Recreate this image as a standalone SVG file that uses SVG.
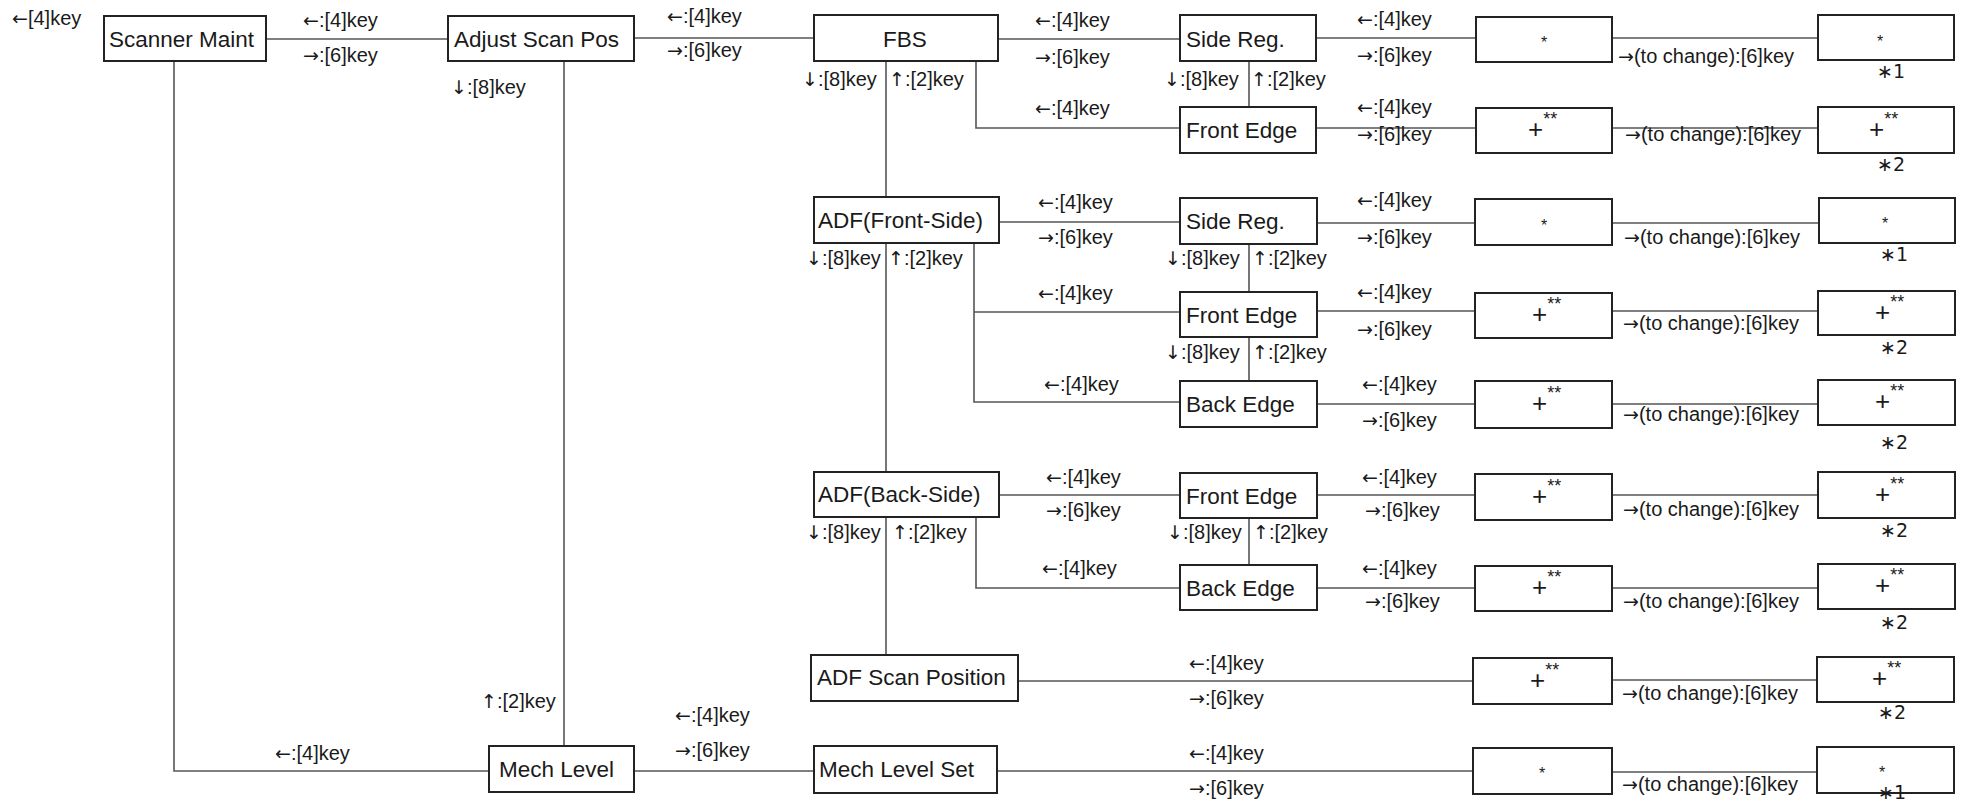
<svg xmlns="http://www.w3.org/2000/svg" width="1966" height="800" viewBox="0 0 1966 800">
<style>
.box{fill:#fff;stroke:#222;stroke-width:2}
.ln{fill:none;stroke:#555;stroke-width:1.6}
text{font-family:"Liberation Sans",Arial,"DejaVu Sans",sans-serif;fill:#1a1a1a}
.nt{font-size:22.5px}
.kl{font-size:20px}
.ar{font-family:"DejaVu Sans",sans-serif;font-size:19px}
.st{font-size:16px}
.pl{font-size:26px}
.sup{font-size:18px}
.nb{font-family:"DejaVu Sans","Liberation Sans",sans-serif;font-size:19px}
</style>
<rect width="1966" height="800" fill="#fff"/>

<g id="connectors">
<path class="ln" d="M266,39H448"/>
<path class="ln" d="M634,38H814"/>
<path class="ln" d="M998,39H1180"/>
<path class="ln" d="M976,61V128H1180"/>
<path class="ln" d="M1249,61V107"/>
<path class="ln" d="M1316,38H1476M1612,38H1818"/>
<path class="ln" d="M1316,128H1476M1612,128H1818"/>
<path class="ln" d="M886,61V197M886,243V472M886,517V655"/>
<path class="ln" d="M999,222H1180"/>
<path class="ln" d="M974,243V402H1180M974,312H1180"/>
<path class="ln" d="M1249,244V292M1249,337V381"/>
<path class="ln" d="M1317,223H1475M1612,223H1818"/>
<path class="ln" d="M1317,311H1475M1612,311H1818"/>
<path class="ln" d="M1317,404H1475M1612,404H1818"/>
<path class="ln" d="M999,495H1180"/>
<path class="ln" d="M976,517V588H1180"/>
<path class="ln" d="M1249,518V565"/>
<path class="ln" d="M1317,495H1475M1612,495H1818"/>
<path class="ln" d="M1317,588H1475M1612,588H1818"/>
<path class="ln" d="M1018,681H1473M1612,680H1817"/>
<path class="ln" d="M174,61V771H489"/>
<path class="ln" d="M564,61V746"/>
<path class="ln" d="M634,771H814"/>
<path class="ln" d="M997,771H1473M1612,772H1817"/>
</g>

<g id="connector-labels" class="kl">
<text x="12" y="25"><tspan class="ar">←</tspan>[4]key</text>
<text x="303" y="27"><tspan class="ar">←</tspan>:[4]key</text>
<text x="303" y="62"><tspan class="ar">→</tspan>:[6]key</text>
<text x="451" y="94"><tspan class="ar">↓</tspan>:[8]key</text>
<text x="667" y="23"><tspan class="ar">←</tspan>:[4]key</text>
<text x="667" y="57"><tspan class="ar">→</tspan>:[6]key</text>
<text x="1035" y="27"><tspan class="ar">←</tspan>:[4]key</text>
<text x="1035" y="64"><tspan class="ar">→</tspan>:[6]key</text>
<text x="802" y="86"><tspan class="ar">↓</tspan>:[8]key</text>
<text x="889" y="86"><tspan class="ar">↑</tspan>:[2]key</text>
<text x="1164" y="86"><tspan class="ar">↓</tspan>:[8]key</text>
<text x="1251" y="86"><tspan class="ar">↑</tspan>:[2]key</text>
<text x="1035" y="115"><tspan class="ar">←</tspan>:[4]key</text>
<text x="1357" y="26"><tspan class="ar">←</tspan>:[4]key</text>
<text x="1357" y="62"><tspan class="ar">→</tspan>:[6]key</text>
<text x="1618" y="63"><tspan class="ar">→</tspan>(to change):[6]key</text>
<text x="1357" y="114"><tspan class="ar">←</tspan>:[4]key</text>
<text x="1357" y="141"><tspan class="ar">→</tspan>:[6]key</text>
<text x="1625" y="141"><tspan class="ar">→</tspan>(to change):[6]key</text>

<text x="1038" y="209"><tspan class="ar">←</tspan>:[4]key</text>
<text x="1038" y="244"><tspan class="ar">→</tspan>:[6]key</text>
<text x="806" y="265"><tspan class="ar">↓</tspan>:[8]key</text>
<text x="888" y="265"><tspan class="ar">↑</tspan>:[2]key</text>
<text x="1165" y="265"><tspan class="ar">↓</tspan>:[8]key</text>
<text x="1252" y="265"><tspan class="ar">↑</tspan>:[2]key</text>
<text x="1038" y="300"><tspan class="ar">←</tspan>:[4]key</text>
<text x="1165" y="359"><tspan class="ar">↓</tspan>:[8]key</text>
<text x="1252" y="359"><tspan class="ar">↑</tspan>:[2]key</text>
<text x="1044" y="391"><tspan class="ar">←</tspan>:[4]key</text>
<text x="1357" y="207"><tspan class="ar">←</tspan>:[4]key</text>
<text x="1357" y="244"><tspan class="ar">→</tspan>:[6]key</text>
<text x="1624" y="244"><tspan class="ar">→</tspan>(to change):[6]key</text>
<text x="1357" y="299"><tspan class="ar">←</tspan>:[4]key</text>
<text x="1357" y="336"><tspan class="ar">→</tspan>:[6]key</text>
<text x="1623" y="330"><tspan class="ar">→</tspan>(to change):[6]key</text>
<text x="1362" y="391"><tspan class="ar">←</tspan>:[4]key</text>
<text x="1362" y="427"><tspan class="ar">→</tspan>:[6]key</text>
<text x="1623" y="421"><tspan class="ar">→</tspan>(to change):[6]key</text>

<text x="1046" y="484"><tspan class="ar">←</tspan>:[4]key</text>
<text x="1046" y="517"><tspan class="ar">→</tspan>:[6]key</text>
<text x="806" y="539"><tspan class="ar">↓</tspan>:[8]key</text>
<text x="892" y="539"><tspan class="ar">↑</tspan>:[2]key</text>
<text x="1167" y="539"><tspan class="ar">↓</tspan>:[8]key</text>
<text x="1253" y="539"><tspan class="ar">↑</tspan>:[2]key</text>
<text x="1042" y="575"><tspan class="ar">←</tspan>:[4]key</text>
<text x="1362" y="484"><tspan class="ar">←</tspan>:[4]key</text>
<text x="1365" y="517"><tspan class="ar">→</tspan>:[6]key</text>
<text x="1623" y="516"><tspan class="ar">→</tspan>(to change):[6]key</text>
<text x="1362" y="575"><tspan class="ar">←</tspan>:[4]key</text>
<text x="1365" y="608"><tspan class="ar">→</tspan>:[6]key</text>
<text x="1623" y="608"><tspan class="ar">→</tspan>(to change):[6]key</text>

<text x="1189" y="670"><tspan class="ar">←</tspan>:[4]key</text>
<text x="1189" y="705"><tspan class="ar">→</tspan>:[6]key</text>
<text x="1622" y="700"><tspan class="ar">→</tspan>(to change):[6]key</text>
<text x="481" y="708"><tspan class="ar">↑</tspan>:[2]key</text>
<text x="675" y="722"><tspan class="ar">←</tspan>:[4]key</text>
<text x="675" y="757"><tspan class="ar">→</tspan>:[6]key</text>
<text x="275" y="760"><tspan class="ar">←</tspan>:[4]key</text>
<text x="1189" y="760"><tspan class="ar">←</tspan>:[4]key</text>
<text x="1189" y="795"><tspan class="ar">→</tspan>:[6]key</text>
<text x="1622" y="791"><tspan class="ar">→</tspan>(to change):[6]key</text>
</g>

<g id="scanner-maint"><rect class="box" x="104" y="16" width="162" height="45"/><text class="nt" x="109" y="47">Scanner Maint</text></g>
<g id="adjust-scan-pos"><rect class="box" x="448" y="16" width="186" height="45"/><text class="nt" x="454" y="47">Adjust Scan Pos</text></g>
<g id="fbs"><rect class="box" x="814" y="15" width="184" height="46"/><text class="nt" x="905" y="47" text-anchor="middle">FBS</text></g>
<g id="fbs-side-reg"><rect class="box" x="1180" y="15" width="136" height="46"/><text class="nt" x="1186" y="47">Side Reg.</text></g>
<g id="fbs-front-edge"><rect class="box" x="1180" y="107" width="136" height="46"/><text class="nt" x="1186" y="138">Front Edge</text></g>
<g id="fbs-side-reg-value"><rect class="box" x="1476" y="17" width="136" height="45"/><text class="st" x="1544" y="48" text-anchor="middle">*</text></g>
<g id="fbs-side-reg-new"><rect class="box" x="1818" y="15" width="136" height="45"/><text class="st" x="1880" y="47" text-anchor="middle">*</text><text class="nb" x="1891" y="78" text-anchor="middle">∗1</text></g>
<g id="fbs-front-edge-value"><rect class="box" x="1476" y="108" width="136" height="45"/><text x="1528" y="138"><tspan class="pl">+</tspan><tspan class="sup" dy="-13">**</tspan></text></g>
<g id="fbs-front-edge-new"><rect class="box" x="1818" y="107" width="136" height="46"/><text x="1869" y="138"><tspan class="pl">+</tspan><tspan class="sup" dy="-13">**</tspan></text><text class="nb" x="1891" y="171" text-anchor="middle">∗2</text></g>

<g id="adf-front-side"><rect class="box" x="814" y="197" width="185" height="46"/><text class="nt" x="818" y="228">ADF(Front-Side)</text></g>
<g id="adf-front-side-reg"><rect class="box" x="1180" y="198" width="137" height="46"/><text class="nt" x="1186" y="229">Side Reg.</text></g>
<g id="adf-front-front-edge"><rect class="box" x="1180" y="292" width="137" height="45"/><text class="nt" x="1186" y="323">Front Edge</text></g>
<g id="adf-front-back-edge"><rect class="box" x="1180" y="381" width="137" height="46"/><text class="nt" x="1186" y="412">Back Edge</text></g>
<g id="adf-front-side-reg-value"><rect class="box" x="1475" y="199" width="137" height="46"/><text class="st" x="1544" y="231" text-anchor="middle">*</text></g>
<g id="adf-front-side-reg-new"><rect class="box" x="1819" y="198" width="136" height="45"/><text class="st" x="1885" y="229" text-anchor="middle">*</text><text class="nb" x="1894" y="261" text-anchor="middle">∗1</text></g>
<g id="adf-front-front-edge-value"><rect class="box" x="1475" y="293" width="137" height="45"/><text x="1532" y="323"><tspan class="pl">+</tspan><tspan class="sup" dy="-13">**</tspan></text></g>
<g id="adf-front-front-edge-new"><rect class="box" x="1818" y="291" width="137" height="44"/><text x="1875" y="321"><tspan class="pl">+</tspan><tspan class="sup" dy="-13">**</tspan></text><text class="nb" x="1894" y="354" text-anchor="middle">∗2</text></g>
<g id="adf-front-back-edge-value"><rect class="box" x="1475" y="381" width="137" height="47"/><text x="1532" y="412"><tspan class="pl">+</tspan><tspan class="sup" dy="-13">**</tspan></text></g>
<g id="adf-front-back-edge-new"><rect class="box" x="1818" y="380" width="137" height="45"/><text x="1875" y="410"><tspan class="pl">+</tspan><tspan class="sup" dy="-13">**</tspan></text><text class="nb" x="1894" y="449" text-anchor="middle">∗2</text></g>

<g id="adf-back-side"><rect class="box" x="814" y="472" width="185" height="45"/><text class="nt" x="818" y="502">ADF(Back-Side)</text></g>
<g id="adf-back-front-edge"><rect class="box" x="1180" y="473" width="137" height="45"/><text class="nt" x="1186" y="504">Front Edge</text></g>
<g id="adf-back-back-edge"><rect class="box" x="1180" y="565" width="137" height="45"/><text class="nt" x="1186" y="596">Back Edge</text></g>
<g id="adf-back-front-edge-value"><rect class="box" x="1475" y="474" width="137" height="46"/><text x="1532" y="505"><tspan class="pl">+</tspan><tspan class="sup" dy="-13">**</tspan></text></g>
<g id="adf-back-front-edge-new"><rect class="box" x="1818" y="472" width="137" height="46"/><text x="1875" y="503"><tspan class="pl">+</tspan><tspan class="sup" dy="-13">**</tspan></text><text class="nb" x="1894" y="537" text-anchor="middle">∗2</text></g>
<g id="adf-back-back-edge-value"><rect class="box" x="1475" y="566" width="137" height="45"/><text x="1532" y="596"><tspan class="pl">+</tspan><tspan class="sup" dy="-13">**</tspan></text></g>
<g id="adf-back-back-edge-new"><rect class="box" x="1818" y="564" width="137" height="45"/><text x="1875" y="594"><tspan class="pl">+</tspan><tspan class="sup" dy="-13">**</tspan></text><text class="nb" x="1894" y="629" text-anchor="middle">∗2</text></g>

<g id="adf-scan-position"><rect class="box" x="811" y="655" width="207" height="46"/><text class="nt" x="817" y="685">ADF Scan Position</text></g>
<g id="adf-scan-position-value"><rect class="box" x="1473" y="658" width="139" height="46"/><text x="1530" y="689"><tspan class="pl">+</tspan><tspan class="sup" dy="-13">**</tspan></text></g>
<g id="adf-scan-position-new"><rect class="box" x="1817" y="657" width="137" height="45"/><text x="1872" y="687"><tspan class="pl">+</tspan><tspan class="sup" dy="-13">**</tspan></text><text class="nb" x="1892" y="719" text-anchor="middle">∗2</text></g>

<g id="mech-level"><rect class="box" x="489" y="746" width="145" height="46"/><text class="nt" x="499" y="777">Mech Level</text></g>
<g id="mech-level-set"><rect class="box" x="814" y="746" width="183" height="47"/><text class="nt" x="819" y="777">Mech Level Set</text></g>
<g id="mech-level-set-value"><rect class="box" x="1473" y="748" width="139" height="46"/><text class="st" x="1542" y="779" text-anchor="middle">*</text></g>
<g id="mech-level-set-new"><rect class="box" x="1817" y="747" width="137" height="46"/><text class="st" x="1882" y="778" text-anchor="middle">*</text><text class="nb" x="1892" y="799" text-anchor="middle">∗1</text></g>
</svg>
